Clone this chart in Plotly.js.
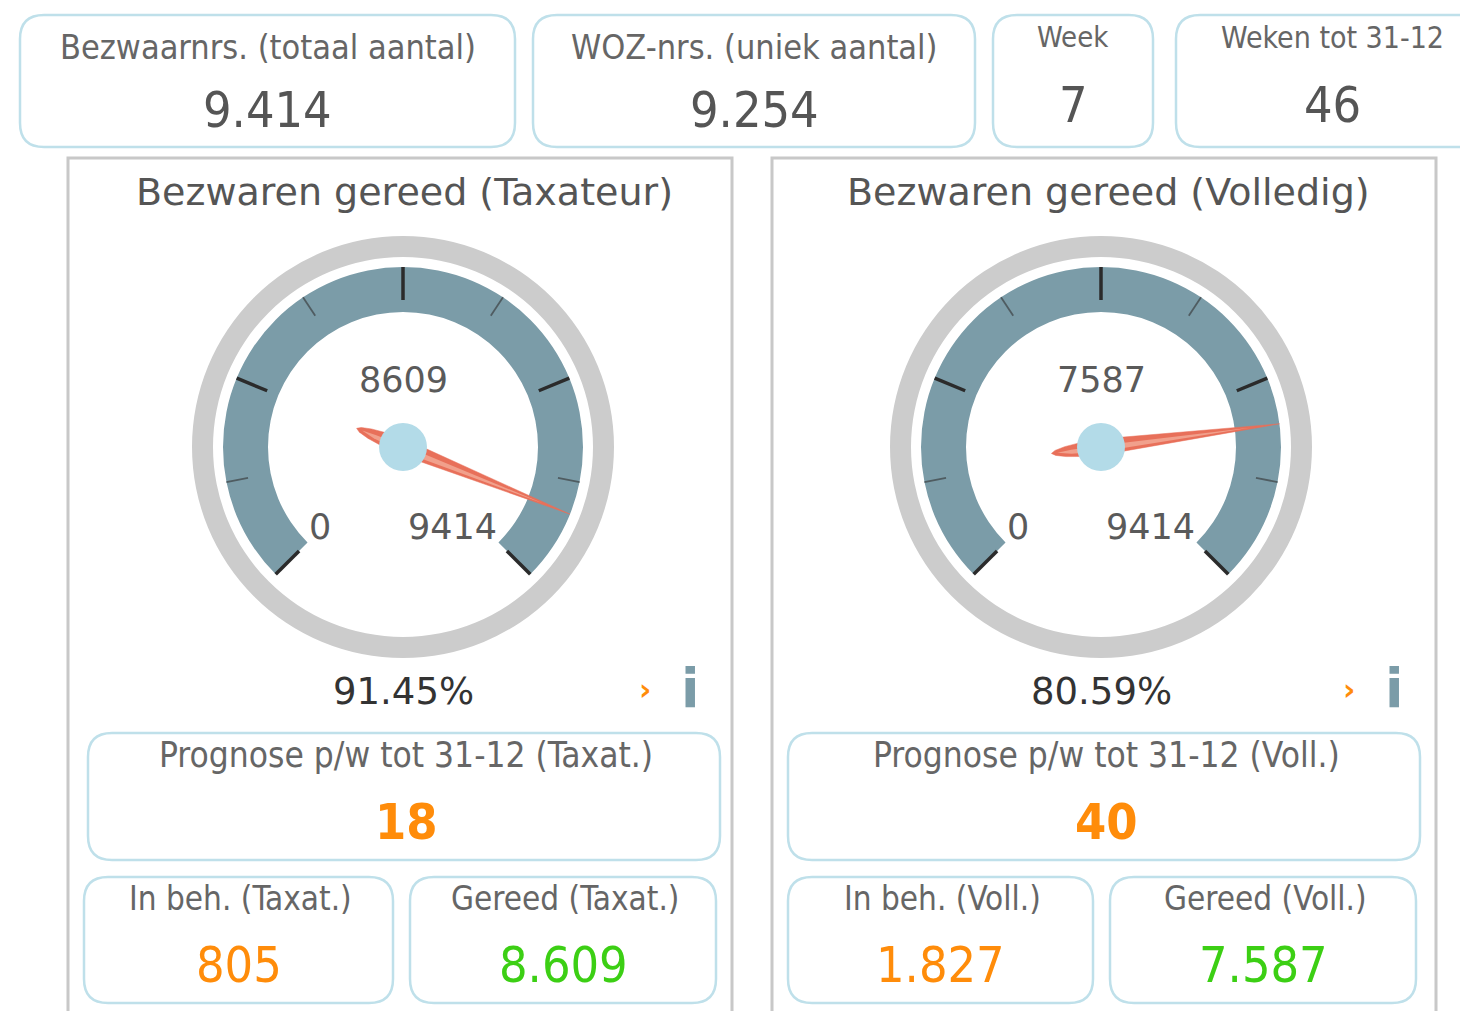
<!DOCTYPE html>
<html>
<head>
<meta charset="utf-8">
<script src="https://cdn.plot.ly/plotly-3.0.1.min.js"></script>
<style>html,body{margin:0;padding:0;background:#fff;}#chart{width:1460px;height:1011px;}</style>
</head>
<body>
<div id="chart"></div>
<script>
// ---- data ----
const kpiLabels = ['Bezwaarnrs. (totaal aantal)', 'WOZ-nrs. (uniek aantal)', 'Week', 'Weken tot 31-12'];
const kpiValues = [9414, 9254, 7, 46];
const gaugeTitles = ['Bezwaren gereed (Taxateur)', 'Bezwaren gereed (Volledig)'];
const gaugeValues = [8609, 7587];
const gaugeMax = [9414, 9414];
const prognoseLabels = ['Prognose p/w tot 31-12 (Taxat.)', 'Prognose p/w tot 31-12 (Voll.)'];
const prognoseValues = [18, 40];
const inBehLabels = ['In beh. (Taxat.)', 'In beh. (Voll.)'];
const inBehValues = [805, 1827];
const gereedLabels = ['Gereed (Taxat.)', 'Gereed (Voll.)'];
const gereedValues = [8609, 7587];

// ---- helpers ----
const W = 1460, H = 1011;
function nl(n) { return String(n).replace(/\B(?=(\d{3})+(?!\d))/g, '.'); }
const NARROW = 'Liberation Sans Narrow, DejaVu Sans Condensed, Roboto, sans-serif';
const SANS = 'DejaVu Sans, Roboto, sans-serif';
const CARD = '#bfe0ea';
const ORANGE = '#ff8c0a';
const GREEN = '#3ccf14';

function rr(x0, y0, x1, y1, r) {
  return `M${x0 + r},${y0} L${x1 - r},${y0} Q${x1},${y0} ${x1},${y0 + r} L${x1},${y1 - r} Q${x1},${y1} ${x1 - r},${y1} L${x0 + r},${y1} Q${x0},${y1} ${x0},${y1 - r} L${x0},${y0 + r} Q${x0},${y0} ${x0 + r},${y0} Z`;
}
const shapes = [];
const annotations = [];
function card(x0, y0, x1, y1) {
  shapes.push({type: 'path', xref: 'x', yref: 'y', path: rr(x0, y0, x1, y1, 24), line: {color: CARD, width: 2.5}});
}
function txt(x, y, t, size, color, family, weight) {
  annotations.push({xref: 'x', yref: 'y', x: x, y: y, text: t, showarrow: false, xanchor: 'center', yanchor: 'middle',
    font: {size: size, color: color, family: family || NARROW, weight: weight || 'normal'}});
}

// top KPI cards
const topBoxes = [[20, 15, 515, 147], [533, 15, 975, 147], [993, 15, 1153, 147], [1176, 15, 1490, 147]];
const topTitleY = [47, 47, 37, 37];
const topTitleSize = [34, 34, 29, 30];
const topValY = [110, 110, 105, 105];
topBoxes.forEach((b, i) => {
  card(b[0], b[1], b[2], b[3]);
  const cx = i === 3 ? 1332 : (b[0] + b[2]) / 2;
  txt(cx, topTitleY[i], kpiLabels[i], topTitleSize[i], '#666666');
  txt(cx, topValY[i], nl(kpiValues[i]), 50, '#555555');
});

// panels
const panelX = [68, 772];
const gaugeCX = [403, 1101];
const gaugeCY = 447;
const R = 215;
const traces = [];
const layout = {
  width: W, height: H, margin: {l: 0, r: 0, t: 0, b: 0},
  paper_bgcolor: '#ffffff', plot_bgcolor: 'rgba(0,0,0,0)', showlegend: false,
  xaxis: {range: [0, W], visible: false, fixedrange: true, domain: [0, 1]},
  yaxis: {range: [H, 0], visible: false, fixedrange: true, domain: [0, 1]},
  shapes: shapes, annotations: annotations
};

for (let g = 0; g < 2; g++) {
  const px = panelX[g];
  shapes.push({type: 'rect', xref: 'x', yref: 'y', x0: px, x1: px + 664, y0: 158, y1: 1030,
    line: {color: '#c8c8c8', width: 3}});
  txt(px + 336, 192, gaugeTitles[g], 38, '#555555', SANS);

  const cx = gaugeCX[g];
  const pname = g === 0 ? 'polar' : 'polar2';
  layout[pname] = {
    domain: {x: [(cx - R) / W, (cx + R) / W], y: [1 - (gaugeCY + R) / H, 1 - (gaugeCY - R) / H]},
    bgcolor: 'rgba(0,0,0,0)',
    radialaxis: {range: [0, R], visible: false, showgrid: false},
    angularaxis: {rotation: 225, direction: 'clockwise', visible: false, showgrid: false, thetaunit: 'degrees'}
  };
  const sub = pname;
  const max = gaugeMax[g];
  const toTheta = v => v / max * 270;
  // outer grey ring
  traces.push({type: 'barpolar', subplot: sub, r: [21], base: [190], theta: [180], width: [360],
    marker: {color: '#cccccc', line: {width: 0}}, hoverinfo: 'skip'});
  // band
  traces.push({type: 'barpolar', subplot: sub, r: [45], base: [135], theta: [toTheta(max / 2)], width: [270],
    marker: {color: '#7b9ca8', line: {width: 0}}, hoverinfo: 'skip'});
  // ticks
  const majR = [], majT = [], minR = [], minT = [];
  for (let k = 0; k <= 8; k++) {
    const th = toTheta(max * k / 8);
    if (k % 2 === 0) { majR.push(147, 180, null); majT.push(th, th, null); }
    else { minR.push(158, 180, null); minT.push(th, th, null); }
  }
  traces.push({type: 'scatterpolar', subplot: sub, mode: 'lines', r: majR, theta: majT,
    line: {color: '#2b2b2b', width: 3.5}, hoverinfo: 'skip', connectgaps: false});
  traces.push({type: 'scatterpolar', subplot: sub, mode: 'lines', r: minR, theta: minT,
    line: {color: '#4f5c61', width: 1.8}, hoverinfo: 'skip', connectgaps: false});
  // needle
  const tn = toTheta(gaugeValues[g]);
  function poly(pts) {
    const r = [], t = [];
    pts.forEach(p => { r.push(Math.hypot(p[0], p[1])); t.push(tn + Math.atan2(p[1], p[0]) * 180 / Math.PI); });
    return {r, t};
  }
  const outer = [[180, 0], [0, 8], [-20, 7], [-36, 5], [-46, 2.5], [-50, 0], [-46, -2.5], [-36, -5], [-20, -7], [0, -8], [180, 0]];
  const inner = [[150, 0], [0, 4.5], [-30, 3], [-44, 0], [-30, -1], [0, -1.5], [150, 0]];
  const po = poly(outer), pi = poly(inner);
  traces.push({type: 'scatterpolar', subplot: sub, mode: 'lines', r: po.r, theta: po.t, fill: 'toself',
    fillcolor: '#e8705a', line: {color: '#e8705a', width: 0.5}, hoverinfo: 'skip'});
  traces.push({type: 'scatterpolar', subplot: sub, mode: 'lines', r: pi.r, theta: pi.t, fill: 'toself',
    fillcolor: '#f1a08c', line: {color: '#f1a08c', width: 0}, hoverinfo: 'skip'});
  // hub
  traces.push({type: 'scatterpolar', subplot: sub, mode: 'markers', r: [0], theta: [0],
    marker: {color: '#b3dbe8', size: 48, line: {width: 0}}, hoverinfo: 'skip'});

  // gauge labels
  txt(cx, 380, String(gaugeValues[g]), 35, '#5a5a5a', SANS);
  txt(cx - 83, 527, '0', 35, '#5a5a5a', SANS);
  txt(cx + 49, 527, String(max), 35, '#5a5a5a', SANS);
  txt(cx, 691, (gaugeValues[g] / max * 100).toFixed(2) + '%', 37, '#333333', SANS);
  txt(px + 577, 689, '›', 30, ORANGE, SANS, 'bold');
  txt(px + 622, 688, 'i', 54, '#7b9ca8', SANS, 'bold');

  // lower cards
  const ox = g === 0 ? 0 : 700;
  card(88 + ox, 733, 720 + ox, 860);
  txt((88 + 720) / 2 + ox + 2, 755, prognoseLabels[g], 35, '#666666');
  txt((88 + 720) / 2 + ox + 2, 822, String(prognoseValues[g]), 50, ORANGE, NARROW, 'bold');
  const b1 = g === 0 ? [84, 393] : [788, 1093];
  const b2 = g === 0 ? [410, 716] : [1110, 1416];
  card(b1[0], 877, b1[1], 1003);
  card(b2[0], 877, b2[1], 1003);
  txt((b1[0] + b1[1]) / 2 + 2, 898, inBehLabels[g], 33, '#666666');
  txt((b1[0] + b1[1]) / 2, 965, nl(inBehValues[g]), 50, ORANGE);
  txt((b2[0] + b2[1]) / 2 + 2, 898, gereedLabels[g], 33, '#666666');
  txt((b2[0] + b2[1]) / 2, 965, nl(gereedValues[g]), 50, GREEN);
}

// dummy trace to anchor cartesian axes
traces.unshift({type: 'scatter', x: [0], y: [0], mode: 'markers', marker: {opacity: 0}, hoverinfo: 'skip'});

Plotly.newPlot('chart', traces, layout, {displayModeBar: false, staticPlot: true});
</script>
</body>
</html>
